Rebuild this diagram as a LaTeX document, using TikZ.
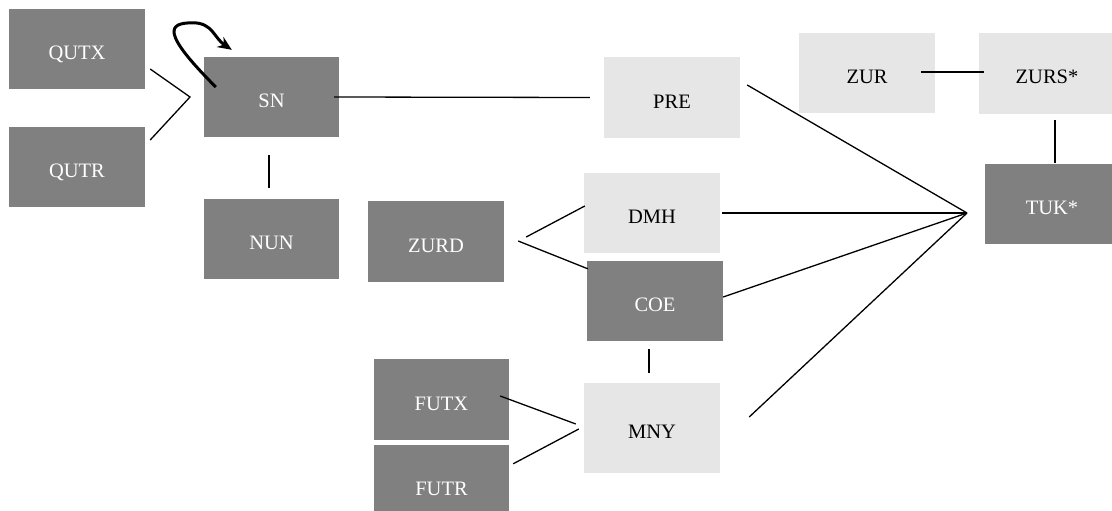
\documentclass[tikz,border=0pt]{standalone}
\usepackage{fontspec}
\setmainfont{Liberation Serif}
\usetikzlibrary{arrows.meta}

\definecolor{oscuro}{HTML}{808080}
\definecolor{claro}{HTML}{E6E6E6}

\tikzset{
  caja/.style={rectangle, minimum width=136pt, minimum height=80pt, inner sep=0pt,
    text height=21pt, text depth=0pt, font=\fontsize{20.5}{24}\selectfont},
  oscura/.style={caja, fill=oscuro, text=white},
  clara/.style={caja, fill=claro, text=black},
  linea/.style={line width=1.3pt},
  lazo/.style={line width=3pt, -{Stealth[length=14pt,width=12pt]}}
}

\begin{document}
\begin{tikzpicture}[x=1pt,y=-1pt]

	\useasboundingbox (0,0) rectangle (1112,511);

	% Cajas oscuras
	\node[oscura] (qutx) at (77,49) {QUTX};
	\node[oscura] (qutr) at (77,167) {QUTR};
	\node[oscura, minimum width=135pt] (sn) at (271.5,97) {SN};
	\node[oscura, minimum width=135pt] (nun) at (271.5,239) {NUN};
	\node[oscura, minimum height=81pt] (zurd) at (436,241.5) {ZURD};
	\node[oscura] (coe) at (655,301) {COE};
	\node[oscura, minimum width=135pt, minimum height=81pt] (futx) at (441.5,399.5) {FUTX};
	\node[oscura, minimum width=135pt] (futr) at (441.5,485) {FUTR};
	\node[oscura, minimum width=135pt] (tuk) at (1052,203.5) {TUK*};

	% Cajas claras
	\node[clara, minimum height=81pt] (pre) at (672,97.5) {PRE};
	\node[clara] (dmh) at (652,213) {DMH};
	\node[clara, minimum height=90pt] (mny) at (652,428) {MNY};
	\node[clara] (zur) at (867,73) {ZUR};
	\node[clara] (zurs) at (1047,73.5) {ZURS*};

	% Puntos de union
	\coordinate (jq) at (190,97);
	\coordinate (hub) at (967,213);

	% Conexiones
	\draw[linea] ([shift={(5,20)}]qutx.east) -- (jq) -- ([shift={(5,-27)}]qutr.east);
	\draw[linea] ([shift={(-5,0)}]sn.east) -- ([shift={(-14,0)}]pre.west);
	\draw[linea] ([shift={(-2.5,18)}]sn.south) -- ([shift={(-2.5,-11)}]nun.north);
	\draw[linea] ([shift={(22,-4.5)}]zurd.east) -- ([shift={(1,-7)}]dmh.west);
	\draw[linea] ([shift={(14,-0.5)}]zurd.east) -- ([shift={(1,8)}]coe.north west);
	\draw[linea] ([shift={(-6,8)}]coe.south) -- ([shift={(-3,-10)}]mny.north);
	\draw[linea] ([shift={(-9,-3.5)}]futx.east) -- ([shift={(-8,-4)}]mny.west);
	\draw[linea] ([shift={(4,19)}]futr.north east) -- ([shift={(-5,1)}]mny.west);
	\draw[linea] ([shift={(-14,-1)}]zur.east) -- ([shift={(5,-1.5)}]zurs.west);
	\draw[linea] ([shift={(8,6.5)}]zurs.south) -- ([shift={(3,0)}]tuk.north);

	% Hacia TUK*
	\draw[linea] ([shift={(7,-12.5)}]pre.east) -- (hub);
	\draw[linea] ([shift={(2,0)}]dmh.east) -- (hub);
	\draw[linea] ([shift={(0,-4)}]coe.east) -- (hub);
	\draw[linea] ([shift={(29,-11)}]mny.east) -- (hub);

	% Lazo sobre SN
	\draw[lazo] ([shift={(12,-10)}]sn.west) .. controls +(-55,-55) and +(-25,0) ..
	  ([shift={(-11,-34)}]sn.north west) .. controls +(20,0) and +(-18,-12) ..
	  ([shift={(28,-7)}]sn.north west);
\end{tikzpicture}
\end{document}
